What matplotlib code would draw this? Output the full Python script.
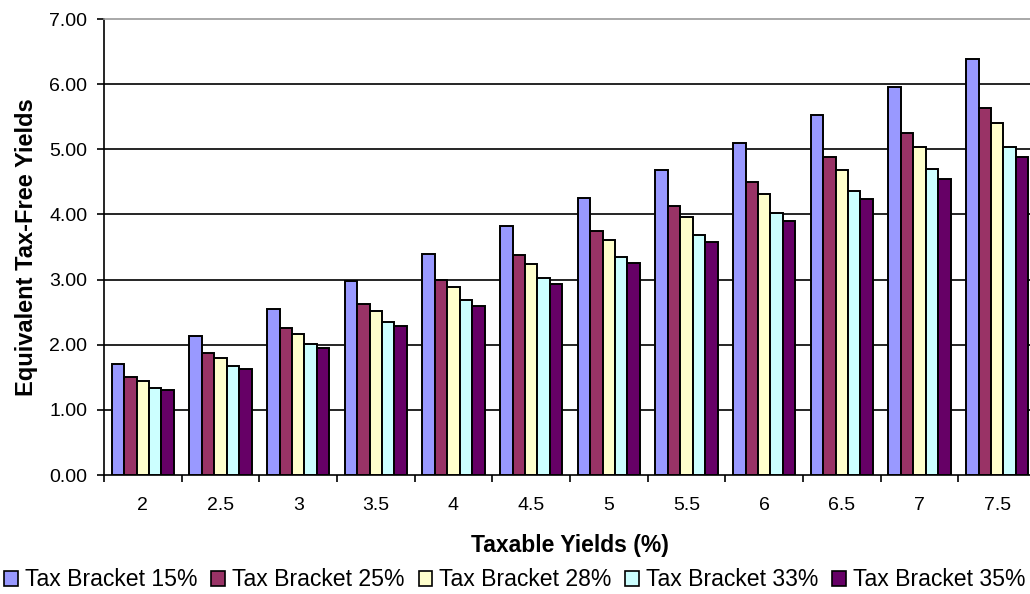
import numpy as np
import matplotlib.pyplot as plt
from matplotlib.patches import Patch

plt.rcParams['font.family'] = ['Liberation Sans', 'DejaVu Sans']

yields = ['2', '2.5', '3', '3.5', '4', '4.5', '5', '5.5', '6', '6.5', '7', '7.5']
brackets = ['Tax Bracket 15%', 'Tax Bracket 25%', 'Tax Bracket 28%',
            'Tax Bracket 33%', 'Tax Bracket 35%']

b15 = [1.70, 2.13, 2.55, 2.98, 3.40, 3.83, 4.25, 4.68, 5.10, 5.53, 5.95, 6.38]
b25 = [1.50, 1.88, 2.25, 2.63, 3.00, 3.38, 3.75, 4.13, 4.50, 4.88, 5.25, 5.63]
b28 = [1.44, 1.80, 2.16, 2.52, 2.88, 3.24, 3.60, 3.96, 4.32, 4.68, 5.04, 5.40]
b33 = [1.34, 1.68, 2.01, 2.35, 2.68, 3.02, 3.35, 3.69, 4.02, 4.36, 4.69, 5.03]
b35 = [1.30, 1.63, 1.95, 2.28, 2.60, 2.93, 3.25, 3.58, 3.90, 4.23, 4.55, 4.88]

series = [b15, b25, b28, b33, b35]
colors = ['#9999FF', '#993366', '#FFFFCC', '#CCFFFF', '#660066']

fig = plt.figure(figsize=(10.30, 5.94), dpi=100)
# right edge sits slightly past the image, like the original (7.5 group is clipped)
ax = fig.add_axes([104/1030, 1-475/594, (1036-104)/1030, (475-19)/594])

x = np.arange(len(yields))
w = 0.16
for i, (vals, c) in enumerate(zip(series, colors)):
    ax.bar(x + (i - 2) * w, vals, width=w, color=c, edgecolor='black',
           linewidth=1.4, zorder=3)

ax.set_xlim(-0.5, len(yields) - 0.5)
ax.set_ylim(0, 7)
ax.set_yticks(np.arange(0, 8, 1))
ax.set_yticklabels(['%.2f' % v for v in np.arange(0, 8, 1)])
ax.set_xticks(x)
ax.set_xticklabels(yields)
ax.set_xticks(np.arange(-0.5, len(yields)), minor=True)
ax.tick_params(axis='x', which='major', length=0, pad=16, labelsize=14)
ax.tick_params(axis='x', which='minor', length=5, width=1.2, direction='out')
ax.tick_params(axis='y', length=5, width=1.2, labelsize=14, pad=7)

for v in range(1, 7):
    ax.axhline(v, color='black', linewidth=1.2, zorder=1)

ax.spines['right'].set_visible(False)
ax.spines['top'].set_color('#999999')
ax.spines['top'].set_linewidth(1.2)
ax.spines['left'].set_linewidth(1.2)
ax.spines['bottom'].set_linewidth(1.2)

ax.set_ylabel('Equivalent Tax-Free Yields', fontsize=17, fontweight='bold',
              labelpad=8)
ax.set_xlabel('Taxable Yields (%)', fontsize=16.5, fontweight='bold', labelpad=14)

handles = [Patch(facecolor=c, edgecolor='black', linewidth=1.2) for c in colors]
fig.legend(handles, brackets, loc='center', bbox_to_anchor=(0.5, 1-580/594),
           ncol=5, frameon=False, fontsize=16.6, handlelength=0.6,
           handleheight=0.6, handletextpad=0.3, columnspacing=0.6,
           borderaxespad=0, borderpad=0)

fig.savefig('out.png', dpi=100)
